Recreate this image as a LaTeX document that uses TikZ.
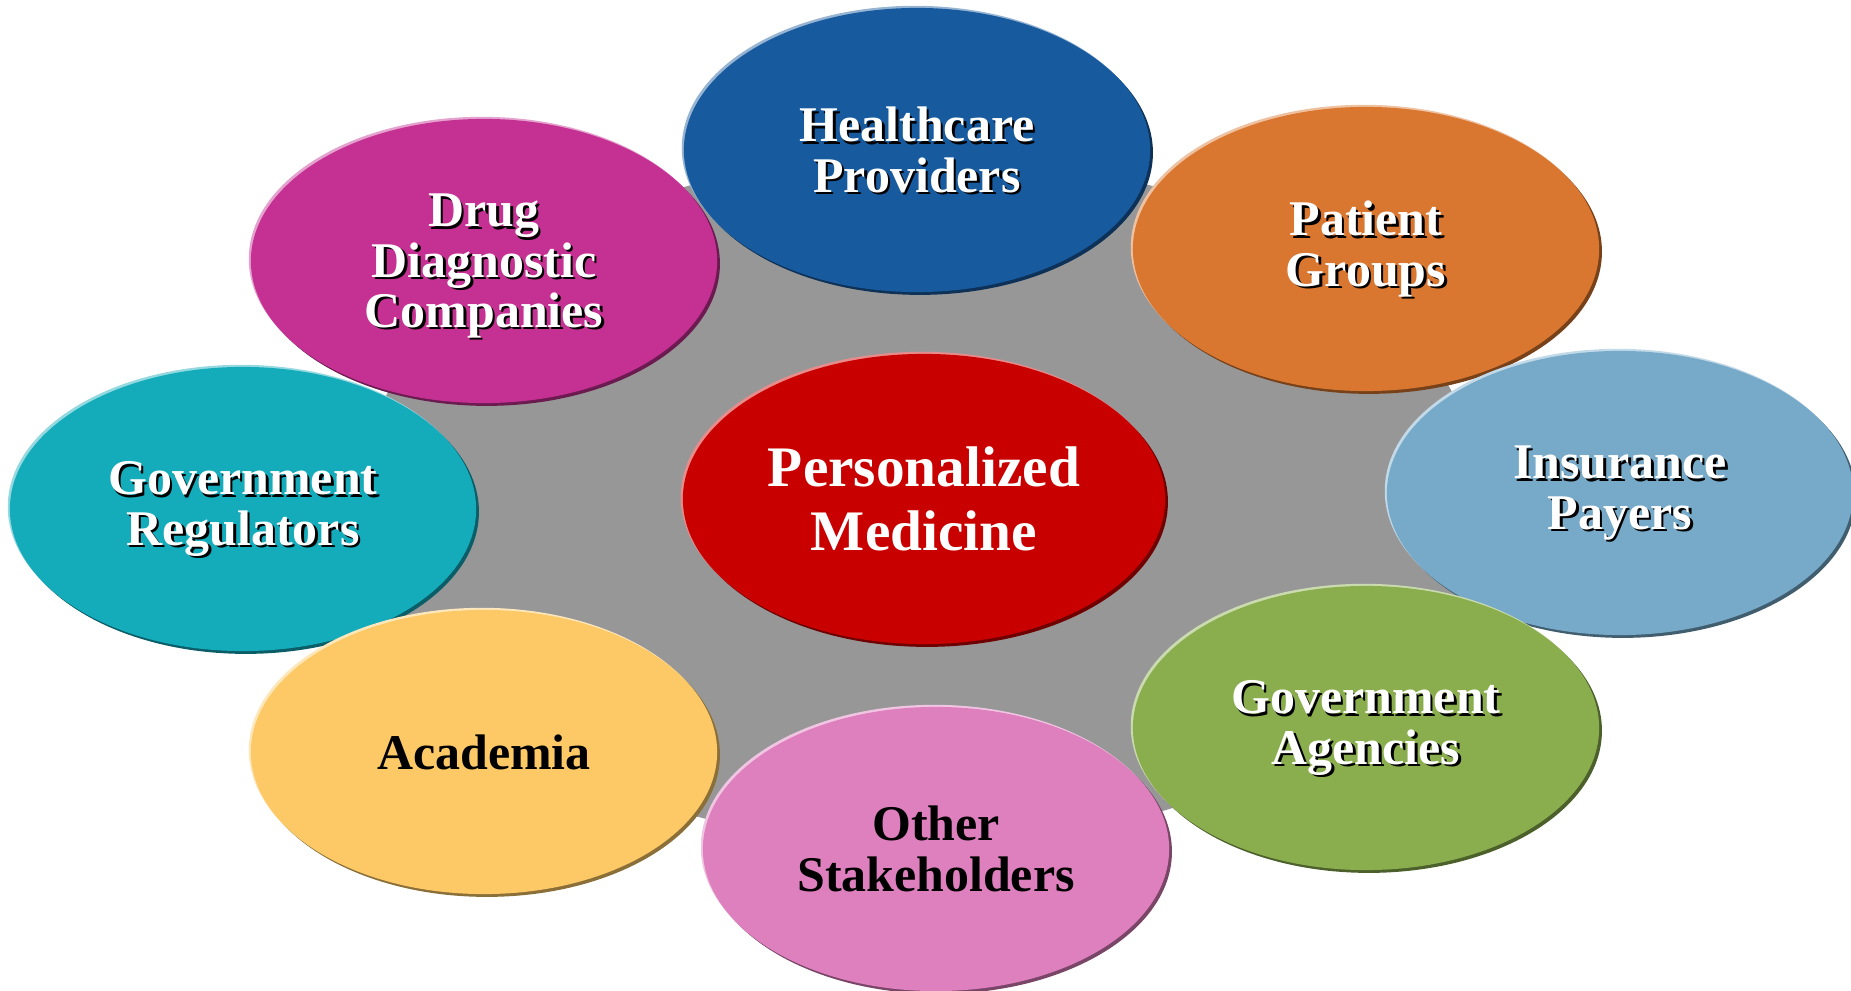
\documentclass[tikz,border=0pt]{standalone}
\usepackage{fontspec}
\setmainfont{Liberation Serif}
\usetikzlibrary{shapes.geometric}

\definecolor{bggray}{HTML}{979797}
\definecolor{hcblue}{HTML}{175A9E}
\definecolor{ptorange}{HTML}{D9762F}
\definecolor{insblue}{HTML}{77AAC9}
\definecolor{agreen}{HTML}{8AAE4E}
\definecolor{othpink}{HTML}{DE7FBE}
\definecolor{acyellow}{HTML}{FDC966}
\definecolor{regteal}{HTML}{14ABBB}
\definecolor{drugmag}{HTML}{C43193}
\definecolor{pmred}{HTML}{C90000}

\begin{document}
\begin{tikzpicture}[x=0.01cm,y=-0.01cm,
  blob/.style={ellipse,inner sep=0pt,minimum width=4.66cm,minimum height=2.84cm,fill=#1,
    preaction={fill=#1!55!black,transform canvas={shift={(0.8pt,-0.8pt)}}},
    preaction={fill=#1!45!white,transform canvas={shift={(-0.6pt,0.6pt)}}}},
  lbl/.style={font=\bfseries\fontsize{14.2}{14.3}\selectfont,align=center,text=white,inner sep=0pt},
  lblshade/.style={lbl,text=black}]
\useasboundingbox (0,0) rectangle (1851,991);
\fill[bggray] (920,500) ellipse [x radius=560,y radius=345];

\node[blob=hcblue] (health) at (917,150) {};
\node[blob=ptorange] (patient) at (1366,249) {};
\node[blob=insblue] (insure) at (1620,493) {};
\node[blob=agreen] (agency) at (1366,728) {};
\node[blob=regteal] (regul) at (243,509) {};
\node[blob=drugmag] (drug) at (484,261) {};
\node[blob=acyellow] (academia) at (484,752) {};
\node[blob=othpink] (other) at (936,849) {};
\node[blob=pmred,minimum width=4.82cm,minimum height=2.9cm] (pm) at (924,499) {};
\coordinate (drugc) at (484,266);

\node[lblshade] (healthsh) at ([shift={(0.7pt,-0.7pt)}]health) {Healthcare\\Providers};
\node[lbl] (healthtxt) at (health) {Healthcare\\Providers};
\node[lblshade] (patientsh) at ([shift={(0.7pt,-0.7pt)}]patient) {Patient\\Groups};
\node[lbl] (patienttxt) at (patient) {Patient\\Groups};
\node[lblshade] (insuresh) at ([shift={(0.7pt,-0.7pt)}]insure) {Insurance\\Payers};
\node[lbl] (insuretxt) at (insure) {Insurance\\Payers};
\node[lblshade] (agencysh) at ([shift={(0.7pt,-0.7pt)}]agency) {Government\\Agencies};
\node[lbl] (agencytxt) at (agency) {Government\\Agencies};
\node[lblshade] (regulsh) at ([shift={(0.7pt,-0.7pt)}]regul) {Government\\Regulators};
\node[lbl] (regultxt) at (regul) {Government\\Regulators};
\node[lblshade] (drugsh) at ([shift={(0.7pt,-0.7pt)}]drugc) {Drug\\Diagnostic\\Companies};
\node[lbl] (drugtxt) at (drugc) {Drug\\Diagnostic\\Companies};

\node[lbl,text=black] (academiatxt) at (academia) {Academia};
\node[lbl,text=black] (othertxt) at (other) {Other\\Stakeholders};
\node[lbl,font=\bfseries\fontsize{16.3}{18}\selectfont] (pmtxt) at (pm) {Personalized\\Medicine};
\end{tikzpicture}
\end{document}
